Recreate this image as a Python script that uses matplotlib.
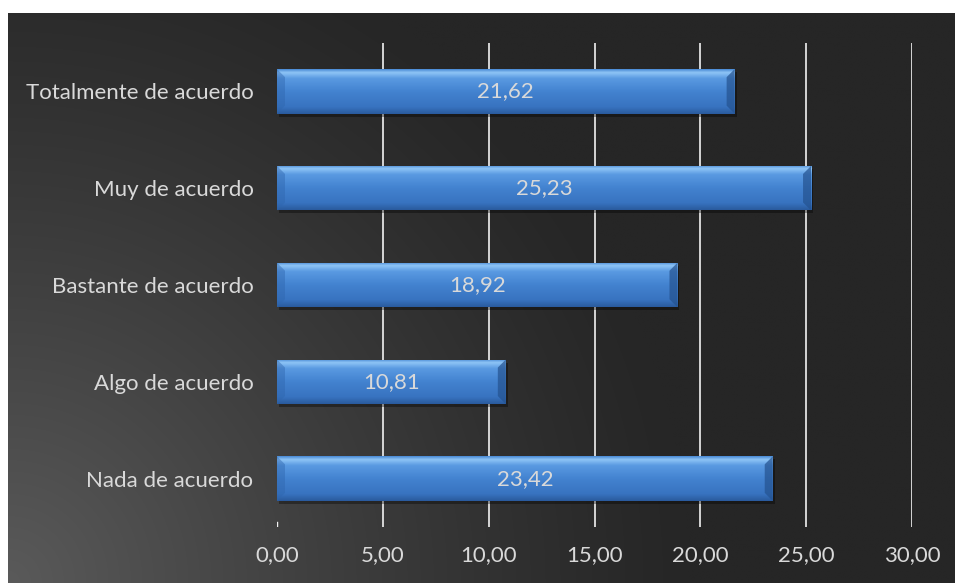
import numpy as np
import matplotlib
matplotlib.use("Agg")
import matplotlib.pyplot as plt
from matplotlib.colors import LinearSegmentedColormap
from matplotlib.patches import Polygon, Rectangle

# Survey responses (percent)
categories = ["Nada de acuerdo", "Algo de acuerdo", "Bastante de acuerdo",
              "Muy de acuerdo", "Totalmente de acuerdo"]
values = [23.42, 10.81, 18.92, 25.23, 21.62]
x_ticks = [0, 5, 10, 15, 20, 25, 30]

W, H, DPI = 955, 583, 100
TXT = "#d9d9d9"
FONT = "Lato"
FS = 16

fig = plt.figure(figsize=(W / DPI, H / DPI), dpi=DPI, facecolor="white")

# Dark chart area with a soft radial glow from the lower-left corner
bg = fig.add_axes([8 / W, 0, (W - 8) / W, (H - 13) / H])
bg.set_axis_off()
gx, gy = np.meshgrid(np.linspace(0, W - 8, 480), np.linspace(0, H - 13, 290))
r = np.hypot(gx, gy) / 680.0
shade = 38 + 52 * np.clip(1 - r, 0, 1) ** 1.2
bg.imshow(np.dstack([shade, shade, shade]) / 255.0, origin="lower",
          aspect="auto", extent=[0, 1, 0, 1], interpolation="bilinear")
bg.set_xlim(0, 1)
bg.set_ylim(0, 1)

ax = fig.add_axes([277 / W, (H - 527) / H, (912 - 277) / W, (527 - 43) / H])
ax.patch.set_alpha(0)
ax.set_xlim(0, 30)
ax.set_ylim(-0.5, len(categories) - 0.5)
for s in ax.spines.values():
    s.set_visible(False)

for t in x_ticks[1:]:
    ax.axvline(t, color="#f2f2f2", lw=1.2, zorder=1)
ax.axvline(0, ymin=0, ymax=0.01, color="#f2f2f2", lw=1.0, zorder=1)

ax.set_xticks(x_ticks)
ax.set_xticklabels([f"{t:.2f}".replace(".", ",") for t in x_ticks])
ax.set_yticks(range(len(categories)))
ax.set_yticklabels(categories)
ax.tick_params(axis="x", length=0, pad=13, labelsize=FS, labelcolor=TXT)
ax.tick_params(axis="y", length=0, pad=17, labelsize=FS, labelcolor=TXT)
for lab in ax.get_xticklabels() + ax.get_yticklabels():
    lab.set_fontfamily(FONT)

# Bevelled blue bars
bar_h = 0.46
px_x = 30 / (912 - 277)
px_y = len(categories) / (527 - 43)
bev_x, bev_y = 8 * px_x, 8 * px_y

grad = LinearSegmentedColormap.from_list("bar", [
    (0.00, "#4b8bd6"), (0.07, "#8fc5f6"), (0.20, "#5a9ae2"),
    (0.50, "#4383d0"), (0.85, "#3873c0"), (1.00, "#2a5b9e")])
col = grad(np.linspace(0, 1, 64))[:, None, :3]

bars = ax.barh(range(len(categories)), values, height=bar_h,
               color="#4383d0", zorder=3)
for i, (b, v) in enumerate(zip(bars, values)):
    x0, x1 = 0, v
    y0, y1 = i - bar_h / 2, i + bar_h / 2
    # drop shadow
    ax.add_patch(Rectangle((x0 + 2 * px_x, y0 - 3 * px_y), v, bar_h,
                           color="black", alpha=0.35, lw=0, zorder=2))
    im = ax.imshow(col, extent=[x0, x1, y0, y1], origin="upper",
                   aspect="auto", interpolation="bilinear", zorder=3.5)
    im.set_clip_path(b)
    # left bevel (shaded)
    ax.add_patch(Polygon([(x0, y0), (x0, y1), (x0 + bev_x, y1 - bev_y),
                          (x0 + bev_x, y0 + bev_y)], closed=True,
                         color="#2f66ae", alpha=0.45, lw=0, zorder=4))
    # right bevel (darker)
    ax.add_patch(Polygon([(x1, y0), (x1, y1), (x1 - bev_x, y1 - bev_y),
                          (x1 - bev_x, y0 + bev_y)], closed=True,
                         color="#24528f", alpha=0.7, lw=0, zorder=4))
    ax.text(v / 2, i, f"{v:.2f}".replace(".", ","), ha="center",
            va="center", color=TXT, fontsize=FS, family=FONT, zorder=5)

fig.savefig("out.png", dpi=DPI, facecolor="white")
